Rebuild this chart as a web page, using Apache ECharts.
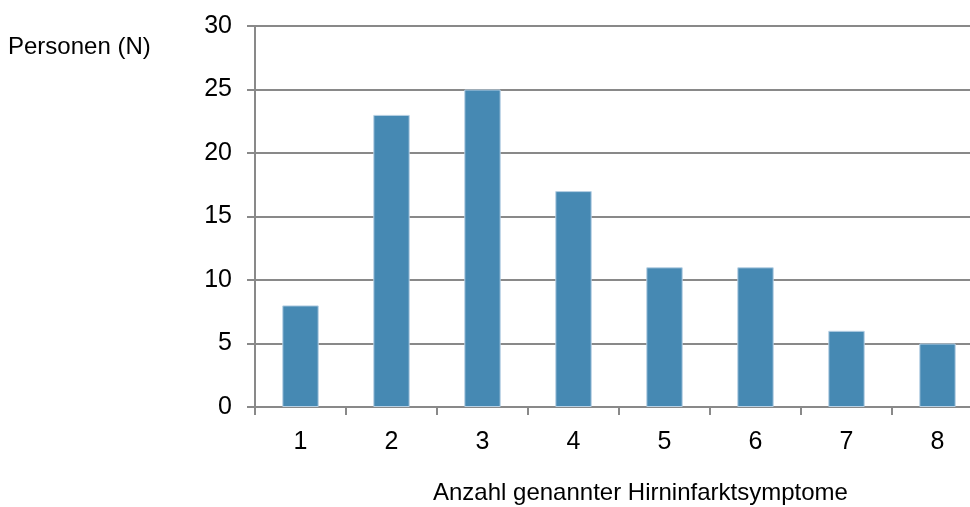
<!DOCTYPE html>
<html>
<head>
<meta charset="utf-8">
<script src="https://cdn.jsdelivr.net/npm/echarts@6/dist/echarts.min.js"></script>
<style>
  html, body { margin: 0; padding: 0; background: #fff; }
  #chart { width: 970px; height: 507px; }
</style>
</head>
<body>
<div id="chart"></div>
<script>
var categories = ['1', '2', '3', '4', '5', '6', '7', '8']
var persons = [8, 23, 25, 17, 11, 11, 6, 5]
var yTicks = [0, 5, 10, 15, 20, 25, 30]

var axisGray = '#898989'
var font = 'Liberation Sans, Arial, sans-serif'

var myChart = echarts.init(document.getElementById('chart'))
var option = {
  animation: false,
  grid: {
    left: 255,
    width: 728,
    top: 26,
    bottom: 100,
    containLabel: false,
    outerBoundsMode: 'none'
  },
  graphic: [
    {
      type: 'text',
      left: 8,
      top: 35,
      style: {
        text: 'Personen (N)',
        font: '24px ' + font,
        fill: '#000'
      }
    },
    {
      type: 'text',
      left: 433,
      top: 481,
      style: {
        text: 'Anzahl genannter Hirninfarktsymptome',
        font: '24px ' + font,
        fill: '#000'
      }
    }
  ],
  xAxis: {
    type: 'category',
    data: categories,
    axisLine: { lineStyle: { color: axisGray, width: 2 } },
    axisTick: { show: true, length: 8, lineStyle: { color: axisGray, width: 2 } },
    axisLabel: {
      color: '#000',
      fontSize: 25,
      fontFamily: font,
      margin: 23
    },
    splitLine: { show: false }
  },
  yAxis: {
    type: 'value',
    min: yTicks[0],
    max: yTicks[yTicks.length - 1],
    interval: 5,
    axisLine: { show: true, lineStyle: { color: axisGray, width: 2 } },
    axisTick: { show: true, length: 8, lineStyle: { color: axisGray, width: 2 } },
    axisLabel: {
      color: '#000',
      fontSize: 25,
      fontFamily: font,
      margin: 23
    },
    splitLine: { show: true, lineStyle: { color: axisGray, width: 2 } }
  },
  series: [
    {
      type: 'bar',
      data: persons,
      barWidth: '40%',
      itemStyle: {
        color: '#4689b3',
        borderColor: '#b7d0e4',
        borderWidth: 1
      },
      z: 3
    }
  ]
}
myChart.setOption(option)
</script>
</body>
</html>
